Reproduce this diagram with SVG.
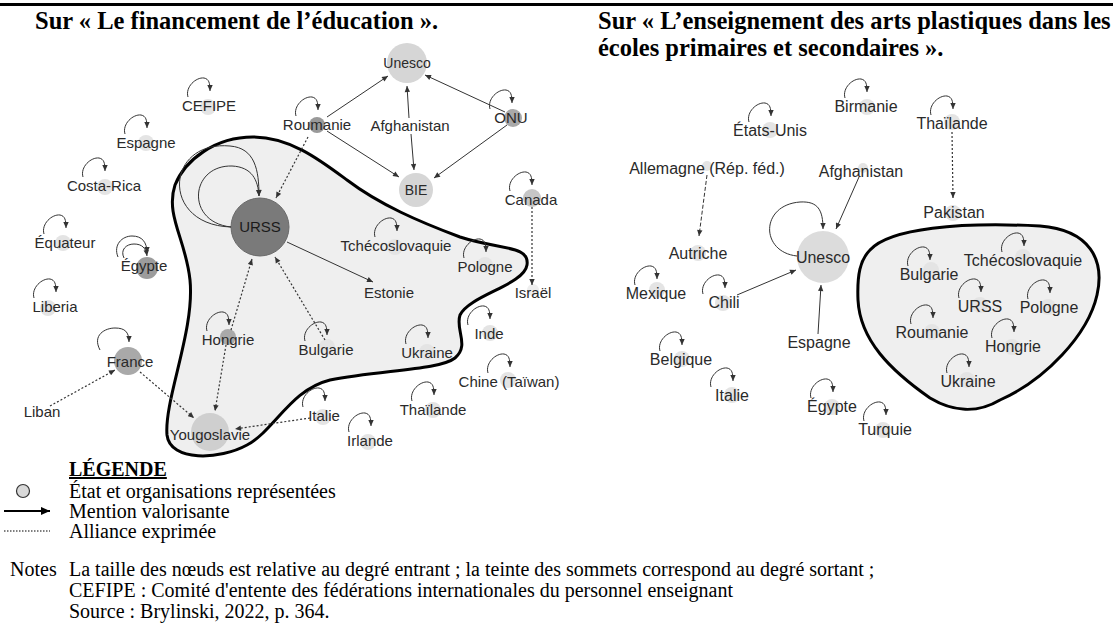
<svg xmlns="http://www.w3.org/2000/svg" xmlns:xlink="http://www.w3.org/1999/xlink" width="1113" height="633" viewBox="0 0 1113 633">
<style>
.lbl{font-family:"Liberation Sans",Arial,sans-serif;font-size:15px;fill:#2a2a2a;text-anchor:middle}
.r .lbl{font-size:16px}
.e{fill:none;stroke:#333;stroke-width:1;marker-end:url(#ah)}
.d{stroke-dasharray:2 2;stroke-width:1.2}
.dl{stroke-dasharray:4 2}
.lp{fill:none;stroke:#333;stroke-width:1;marker-end:url(#ah)}
.blob{fill:#efefef;stroke:#000;stroke-width:3}
.sm{fill:#e4e4e4}
.lg{fill:#d6d6d6}
.md{fill:#a9a9a9}
.ttl{font-family:"Liberation Serif","Times New Roman",serif;font-weight:bold;font-size:24.5px;fill:#000}
.leg{font-family:"Liberation Serif","Times New Roman",serif;font-size:20px;fill:#000}
</style>
<defs>
<marker id="ah" viewBox="0 0 10 10" refX="10" refY="5" markerWidth="7" markerHeight="6" orient="auto" markerUnits="userSpaceOnUse"><path d="M0,0.5 L10,5 L0,9.5 z" fill="#333"/></marker>
<marker id="ahL" viewBox="0 0 10 10" refX="10" refY="5" markerWidth="10" markerHeight="9" orient="auto" markerUnits="userSpaceOnUse"><path d="M0,0.5 L10,5 L0,9.5 z" fill="#000"/></marker>
<path id="lp" class="lp" d="M -21,-9 C -24,-19 -13,-29 -5,-28 C 0,-27 1,-23 1,-15"/>
</defs>
<rect width="1113" height="633" fill="#fff"/>
<line x1="0" y1="4.5" x2="1113" y2="4.5" stroke="#000" stroke-width="3"/>
<text class="ttl" x="35" y="29">Sur « Le financement de l’éducation ».</text>
<text class="ttl" x="598" y="29">Sur « L’enseignement des arts plastiques dans les</text>
<text class="ttl" x="598" y="56">écoles primaires et secondaires ».</text>

<g id="blobs">
<path class="blob" d="M 253,137 C 290,137 320,160 347,180 C 380,205 420,222 460,237 C 500,250 530,245 527,265 C 524,285 470,295 460,315 C 455,330 470,345 455,358 C 440,370 380,370 330,380 C 290,390 275,430 247,445 C 220,460 170,462 167,435 C 164,400 195,330 190,280 C 186,240 165,215 175,185 C 185,160 215,137 253,137 Z"/>
<path class="blob" d="M 870,250 C 890,228 960,222 1040,226 C 1090,230 1105,260 1097,295 C 1088,335 1045,380 1000,400 C 975,415 950,410 930,398 C 890,370 860,340 858,300 C 857,275 860,260 870,250 Z"/>
</g>

<g id="nodes-left">
<g id="n-unesco-l"><circle cx="407" cy="63" r="20" class="lg"/><text class="lbl" x="407" y="68" style="font-size:14px">Unesco</text></g>
<g id="n-cefipe"><circle cx="208" cy="107" r="8" class="sm"/><text class="lbl" x="209" y="111">CEFIPE</text></g>
<g id="n-roumanie-l"><circle cx="317" cy="125" r="8" fill="#999"/><text class="lbl" x="317" y="130">Roumanie</text></g>
<g id="n-afghanistan-l"><text class="lbl" x="410" y="131">Afghanistan</text></g>
<g id="n-onu"><circle cx="513" cy="118" r="9" class="md"/><text class="lbl" x="511" y="123">ONU</text></g>
<g id="n-bie"><circle cx="416" cy="190" r="17" class="lg"/><text class="lbl" x="416" y="195" style="font-size:14px">BIE</text></g>
<g id="n-urss-l"><circle cx="260" cy="227" r="29" fill="#7a7a7a" stroke="#6a6a6a"/><text class="lbl" x="260" y="232" style="fill:#1a1a1a">URSS</text></g>
<g id="n-espagne-l"><circle cx="146" cy="143" r="8" class="sm"/><text class="lbl" x="146" y="148">Espagne</text></g>
<g id="n-costarica"><circle cx="105" cy="187" r="8" class="sm"/><text class="lbl" x="104" y="191">Costa-Rica</text></g>
<g id="n-equateur"><circle cx="63" cy="243" r="8" class="sm"/><text class="lbl" x="65" y="248">Équateur</text></g>
<g id="n-egypte-l"><circle cx="147" cy="268" r="11" fill="#9c9c9c"/><text class="lbl" x="144" y="271">Égypte</text></g>
<g id="n-liberia"><circle cx="48" cy="308" r="8" class="sm"/><text class="lbl" x="55" y="312">Liberia</text></g>
<g id="n-france"><circle cx="128" cy="361" r="14" class="md"/><text class="lbl" x="130" y="367">France</text></g>
<g id="n-liban"><text class="lbl" x="42" y="417">Liban</text></g>
<g id="n-hongrie-l"><circle cx="228" cy="337" r="8" class="md"/><text class="lbl" x="228" y="345">Hongrie</text></g>
<g id="n-bulgarie-l"><circle cx="327" cy="347" r="8" class="sm"/><text class="lbl" x="326" y="355">Bulgarie</text></g>
<g id="n-tchecoslovaquie-l"><circle cx="395" cy="247" r="8" class="sm"/><text class="lbl" x="396" y="251">Tchécoslovaquie</text></g>
<g id="n-estonie"><text class="lbl" x="389" y="298">Estonie</text></g>
<g id="n-pologne-l"><circle cx="485" cy="265" r="8" class="sm"/><text class="lbl" x="485" y="272">Pologne</text></g>
<g id="n-ukraine-l"><circle cx="427" cy="352" r="8" class="sm"/><text class="lbl" x="427" y="358">Ukraine</text></g>
<g id="n-canada"><circle cx="532" cy="198" r="9" fill="#c6c6c6"/><text class="lbl" x="531" y="205">Canada</text></g>
<g id="n-israel"><circle cx="533" cy="290" r="6" fill="#eee"/><text class="lbl" x="533" y="298">Israël</text></g>
<g id="n-inde"><circle cx="490" cy="333" r="8" class="sm"/><text class="lbl" x="489" y="339">Inde</text></g>
<g id="n-chine"><circle cx="508" cy="380" r="8" class="sm"/><text class="lbl" x="509" y="387">Chine (Taïwan)</text></g>
<g id="n-thailande-l"><circle cx="433" cy="410" r="8" class="sm"/><text class="lbl" x="433" y="415">Thaïlande</text></g>
<g id="n-italie-l"><circle cx="323" cy="417" r="8" class="sm"/><text class="lbl" x="324" y="421">Italie</text></g>
<g id="n-irlande"><circle cx="368" cy="442" r="8" class="sm"/><text class="lbl" x="370" y="446">Irlande</text></g>
<g id="n-yougoslavie"><circle cx="210" cy="432" r="19" fill="#cfcfcf"/><text class="lbl" x="210" y="440">Yougoslavie</text></g>
</g>

<g id="nodes-right" class="r">
<g id="n-etatsunis"><circle cx="770" cy="130" r="8" class="sm"/><text class="lbl" x="770" y="136">États-Unis</text></g>
<g id="n-birmanie"><circle cx="867" cy="107" r="8" class="sm"/><text class="lbl" x="866" y="112">Birmanie</text></g>
<g id="n-thailande-r"><circle cx="952" cy="122" r="8" class="sm"/><text class="lbl" x="952" y="129">Thaïlande</text></g>
<g id="n-allemagne"><circle cx="707" cy="166" r="5" class="sm"/><text class="lbl" x="707" y="174">Allemagne (Rép. féd.)</text></g>
<g id="n-afghanistan-r"><circle cx="863" cy="168" r="5" class="sm"/><text class="lbl" x="861" y="177">Afghanistan</text></g>
<g id="n-pakistan"><circle cx="953" cy="213" r="8" class="sm"/><text class="lbl" x="954" y="218">Pakistan</text></g>
<g id="n-autriche"><circle cx="698" cy="253" r="8" class="sm"/><text class="lbl" x="698" y="259">Autriche</text></g>
<g id="n-unesco-r"><circle cx="823" cy="257" r="26" fill="#dcdcdc"/><text class="lbl" x="823" y="263">Unesco</text></g>
<g id="n-mexique"><circle cx="657" cy="290" r="8" class="sm"/><text class="lbl" x="656" y="299">Mexique</text></g>
<g id="n-chili"><circle cx="723" cy="303" r="8" class="sm"/><text class="lbl" x="724" y="308">Chili</text></g>
<g id="n-espagne-r"><text class="lbl" x="819" y="348">Espagne</text></g>
<g id="n-belgique"><circle cx="682" cy="359" r="8" class="sm"/><text class="lbl" x="681" y="365">Belgique</text></g>
<g id="n-italie-r"><circle cx="732" cy="395" r="8" class="sm"/><text class="lbl" x="732" y="401">Italie</text></g>
<g id="n-egypte-r"><circle cx="832" cy="407" r="8" class="sm"/><text class="lbl" x="832" y="412">Égypte</text></g>
<g id="n-turquie"><circle cx="883" cy="430" r="8" class="sm"/><text class="lbl" x="885" y="435">Turquie</text></g>
<g id="n-bulgarie-r"><circle cx="931" cy="270" r="8" class="sm"/><text class="lbl" x="929" y="280">Bulgarie</text></g>
<g id="n-tchecoslovaquie-r"><circle cx="1023" cy="257" r="8" class="sm"/><text class="lbl" x="1023" y="266">Tchécoslovaquie</text></g>
<g id="n-urss-r"><circle cx="980" cy="305" r="8" class="sm"/><text class="lbl" x="980" y="312">URSS</text></g>
<g id="n-pologne-r"><circle cx="1048" cy="307" r="8" class="sm"/><text class="lbl" x="1049" y="313">Pologne</text></g>
<g id="n-roumanie-r"><circle cx="932" cy="332" r="8" class="sm"/><text class="lbl" x="932" y="338">Roumanie</text></g>
<g id="n-hongrie-r"><circle cx="1012" cy="347" r="8" class="sm"/><text class="lbl" x="1013" y="352">Hongrie</text></g>
<g id="n-ukraine-r"><circle cx="967" cy="380" r="8" class="sm"/><text class="lbl" x="968" y="387">Ukraine</text></g>
</g>

<g id="connectors">
<path class="e" d="M327,117 L388,76"/>
<path class="e" d="M327,131 L399,177"/>
<path class="e d" d="M308,137 L276,198"/>
<path class="e" d="M409,118 L407,86"/>
<path class="e" d="M411,134 L414,170"/>
<path class="e" d="M505,112 L425,75"/>
<path class="e" d="M507,125 L434,178"/>
<path class="e" d="M231,227 C160,225 165,140 230,146 C255,148 259,170 259,196"/>
<path class="e" d="M231,227 C185,222 190,165 232,166 C252,167 258,180 259,196"/>
<path class="e" d="M287,242 L373,282"/>
<path class="e d" d="M231,330 L252,259"/>
<path class="e d" d="M226,345 L215,411"/>
<path class="e d" d="M325,340 L275,257"/>
<path class="e d" d="M532,207 L532,285"/>
<path class="e d" d="M140,372 L194,418"/>
<path class="e d" d="M50,406 L115,370"/>
<path class="e d" d="M310,418 L235,429"/>
<path class="lp" d="M118,257 C113,245 122,236 132,236 C142,236 147,242 147,253"/>
<path class="lp" d="M124,258 C120,250 126,244 134,244 C142,244 146,248 147,256"/>
<path class="lp" d="M100,350 C92,335 105,328 115,328 C125,328 129,332 129,342"/>
<use xlink:href="#lp" x="209" y="106"/>
<use xlink:href="#lp" x="317" y="125"/>
<use xlink:href="#lp" x="511" y="118"/>
<use xlink:href="#lp" x="146" y="143"/>
<use xlink:href="#lp" x="104" y="186"/>
<use xlink:href="#lp" x="65" y="243"/>
<use xlink:href="#lp" x="55" y="307"/>
<use xlink:href="#lp" x="228" y="340"/>
<use xlink:href="#lp" x="326" y="350"/>
<use xlink:href="#lp" x="396" y="246"/>
<use xlink:href="#lp" x="485" y="267"/>
<use xlink:href="#lp" x="427" y="353"/>
<use xlink:href="#lp" x="531" y="200"/>
<use xlink:href="#lp" x="489" y="334"/>
<use xlink:href="#lp" x="509" y="382"/>
<use xlink:href="#lp" x="433" y="410"/>
<use xlink:href="#lp" x="324" y="416"/>
<use xlink:href="#lp" x="370" y="441"/>
<path class="e dl" d="M707,175 L699,236"/>
<path class="e d" d="M952,132 L953,198"/>
<path class="e" d="M859,177 L836,229"/>
<path class="e" d="M737,295 L796,270"/>
<path class="e" d="M818,334 L821,285"/>
<path class="e" d="M797,256 C760,252 760,205 800,202 C818,201 823,210 823,229"/>
<use xlink:href="#lp" x="770" y="131"/>
<use xlink:href="#lp" x="866" y="107"/>
<use xlink:href="#lp" x="952" y="124"/>
<use xlink:href="#lp" x="656" y="294"/>
<use xlink:href="#lp" x="724" y="303"/>
<use xlink:href="#lp" x="681" y="360"/>
<use xlink:href="#lp" x="732" y="396"/>
<use xlink:href="#lp" x="832" y="407"/>
<use xlink:href="#lp" x="885" y="430"/>
<use xlink:href="#lp" x="929" y="275"/>
<use xlink:href="#lp" x="1023" y="261"/>
<use xlink:href="#lp" x="980" y="307"/>
<use xlink:href="#lp" x="1049" y="308"/>
<use xlink:href="#lp" x="932" y="333"/>
<use xlink:href="#lp" x="1013" y="347"/>
<use xlink:href="#lp" x="968" y="382"/>
</g>

<g id="legend">
<text class="leg" x="69" y="476" style="font-weight:bold;text-decoration:underline">LÉGENDE</text>
<circle cx="23" cy="491" r="6.5" fill="#d9d9d9" stroke="#333" stroke-width="1.2"/>
<text class="leg" x="69" y="498">État et organisations représentées</text>
<line x1="4" y1="511" x2="50" y2="511" stroke="#000" stroke-width="2" marker-end="url(#ahL)"/>
<text class="leg" x="69" y="518">Mention valorisante</text>
<line x1="4" y1="531" x2="50" y2="531" stroke="#000" stroke-width="1.2" stroke-dasharray="1.5 1.5"/>
<text class="leg" x="69" y="538">Alliance exprimée</text>
<text class="leg" x="10" y="576">Notes</text>
<text class="leg" x="69" y="576">La taille des nœuds est relative au degré entrant ; la teinte des sommets correspond au degré sortant ;</text>
<text class="leg" x="69" y="597">CEFIPE : Comité d'entente des fédérations internationales du personnel enseignant</text>
<text class="leg" x="69" y="618">Source : Brylinski, 2022, p. 364.</text>
</g>
</svg>
